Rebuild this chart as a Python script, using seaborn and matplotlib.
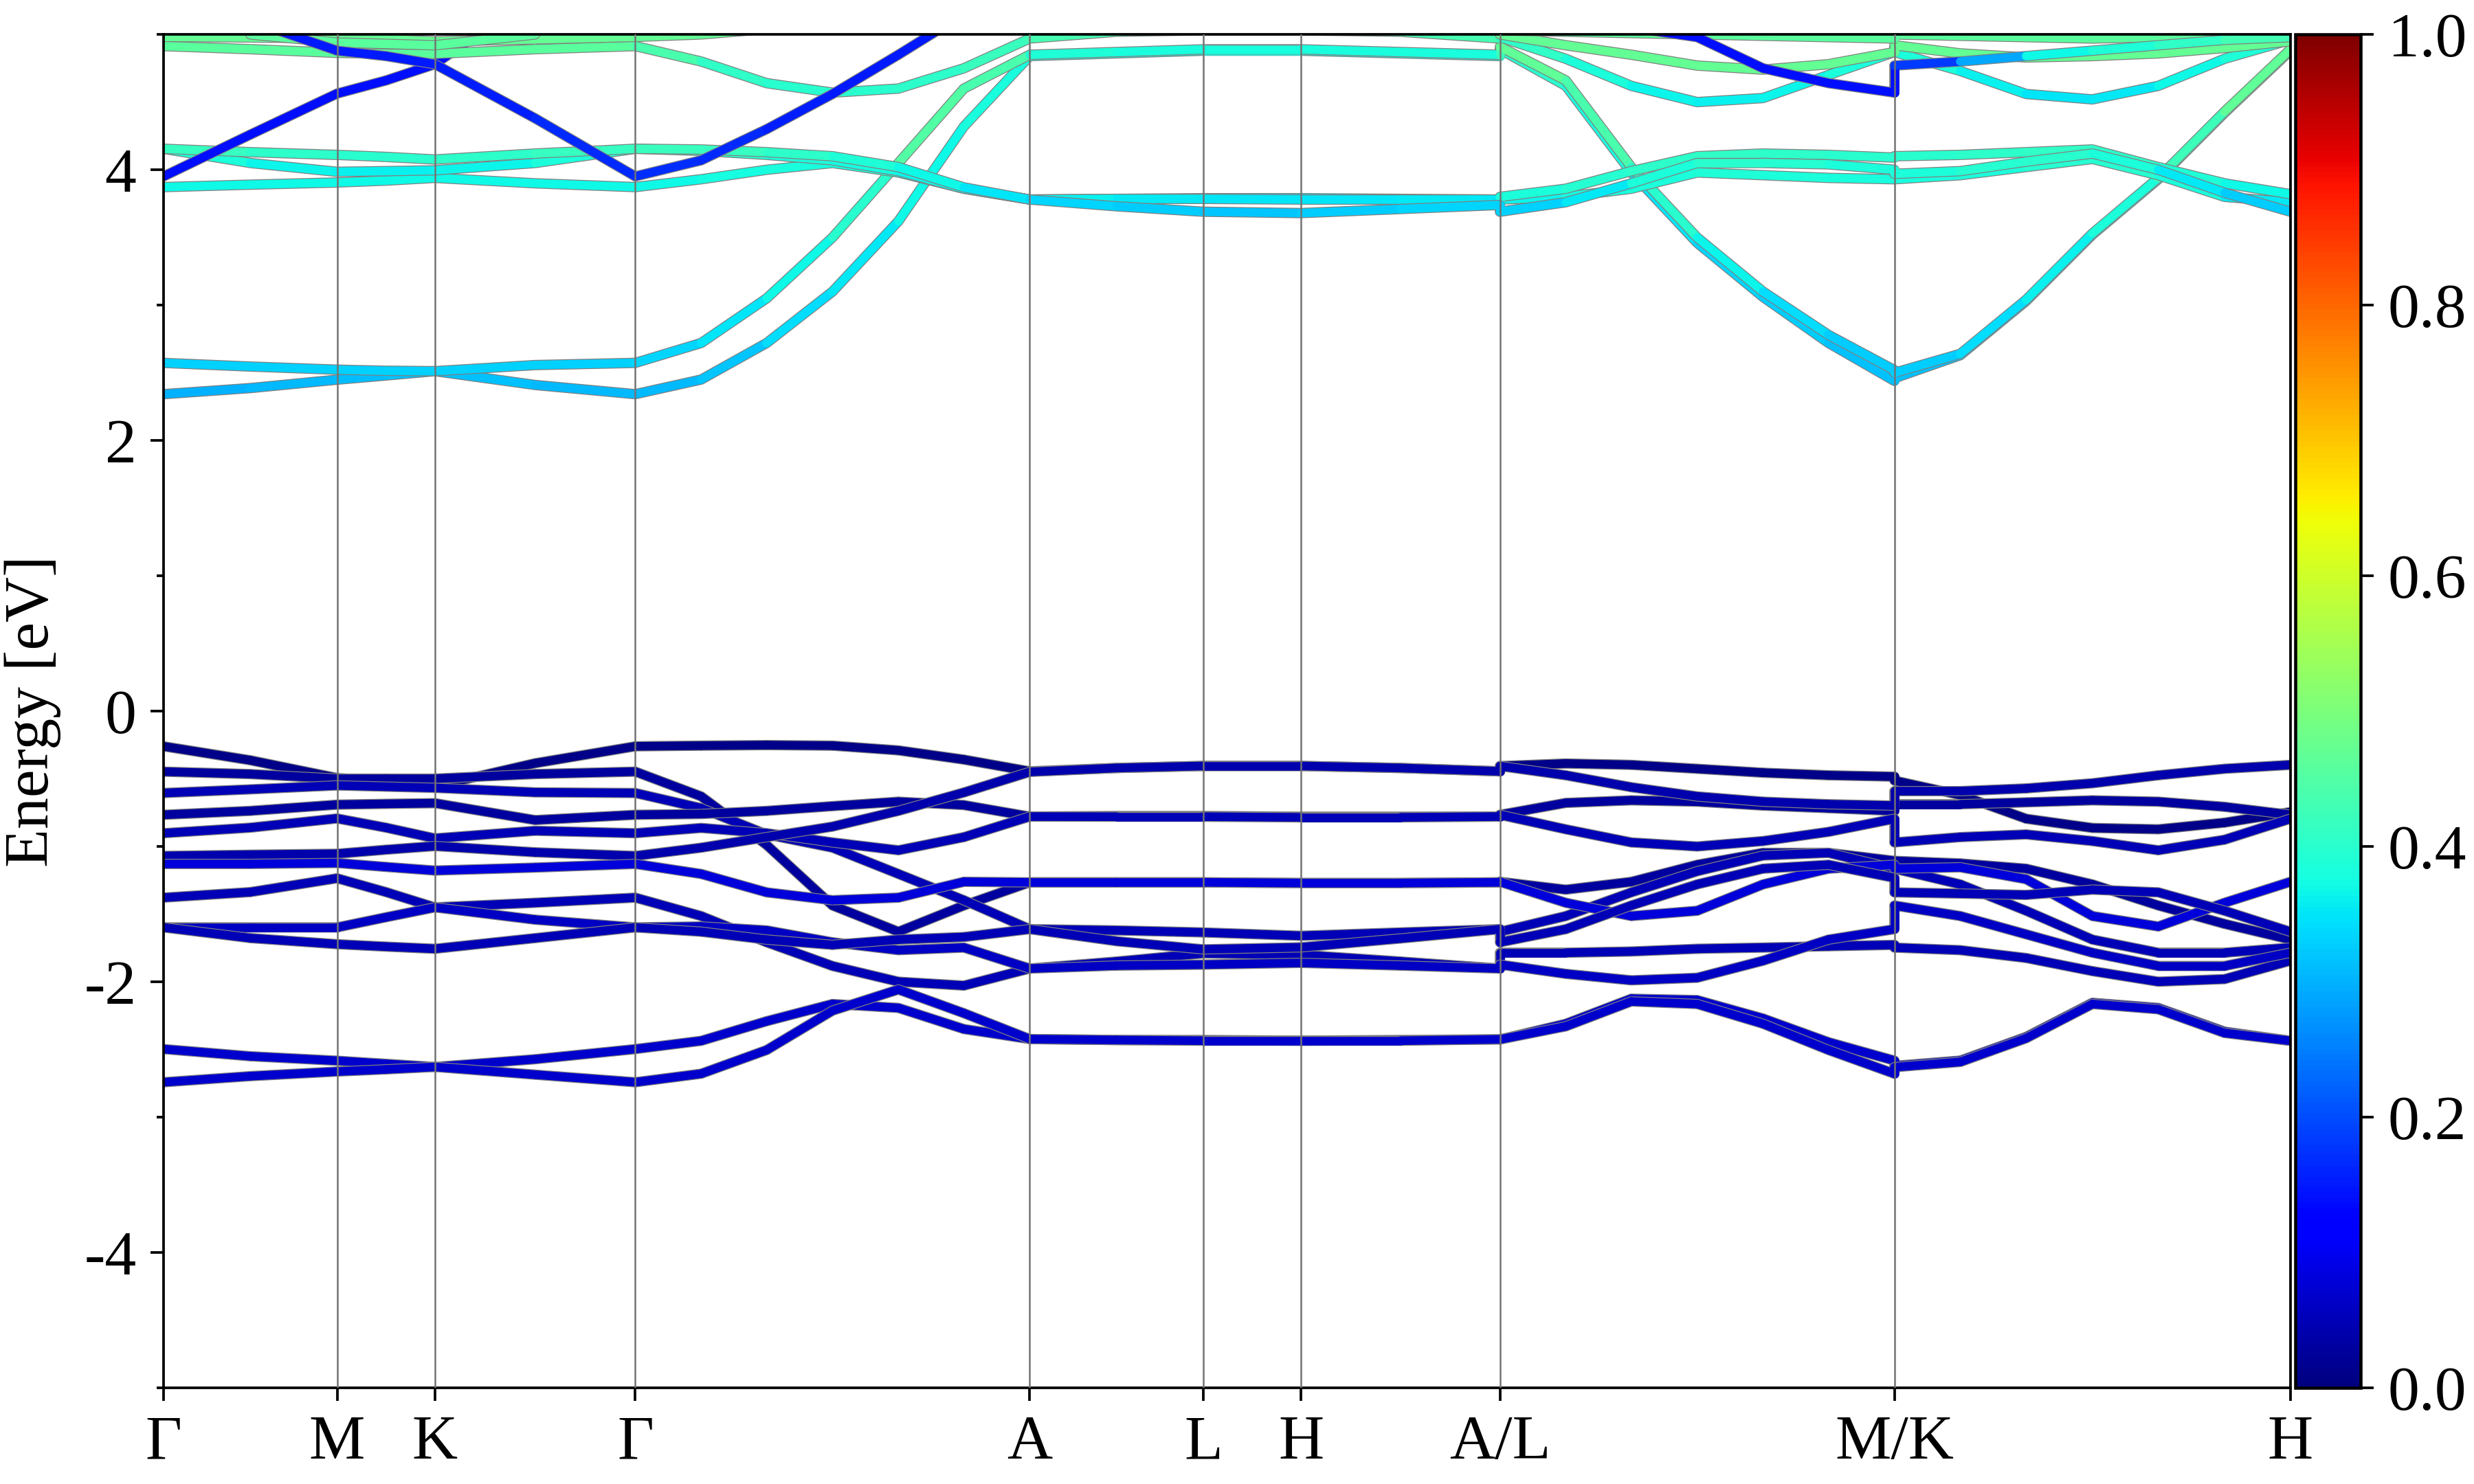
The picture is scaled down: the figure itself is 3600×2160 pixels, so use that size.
import numpy as np
import pandas as pd
import matplotlib
matplotlib.use('Agg')
import matplotlib.pyplot as plt
from matplotlib.collections import LineCollection
from matplotlib.ticker import FixedLocator, MultipleLocator
import seaborn as sns

nan = np.nan

# k-path distance of every sampled k-point (jumps at A|L and M|K are repeated)
kpath = [0.0, 0.22, 0.44, 0.564, 0.688, 0.942, 1.196,
         1.363, 1.529, 1.696, 1.863, 2.029, 2.196,
         2.416, 2.636, 2.884, 3.136, 3.388,
         3.388, 3.555, 3.721, 3.888, 4.055, 4.221, 4.388,
         4.388, 4.555, 4.722, 4.89, 5.057, 5.225, 5.392]
kticks = [0.0, 0.44, 0.688, 1.196, 2.196, 2.636, 2.884, 3.388, 4.388, 5.392]
klabels = ['Γ', 'M', 'K', 'Γ', 'A', 'L', 'H', 'A/L', 'M/K', 'H']

# valence bands (eV), pieces: Γ-M-K-Γ | Γ-A | A-L-H-A | L-M | K-H
v01 = [-0.26, -0.363, -0.494, -0.521, -0.555, -0.385, -0.26,
       -0.255, -0.251, -0.255, -0.290, -0.358, -0.445,
       -0.42, -0.405, -0.405, -0.42, -0.445,
       -0.406, -0.387, -0.397, -0.426, -0.455, -0.474, -0.484,
       -0.513, -0.620, -0.795, -0.863, -0.873, -0.824, -0.746]
v02 = [-0.447, -0.465, -0.499, -0.499, -0.499, -0.465, -0.447,
       -0.630, -0.989, -1.436, -1.630, -1.436, -1.265,
       -1.265, -1.265, -1.27, -1.27, -1.265,
       -1.261, -1.319, -1.261, -1.135, -1.047, -1.047, -1.106,
       -1.106, -1.125, -1.164, -1.280, -1.436, -1.572, -1.688]
v03 = [-0.605, -0.578, -0.549, -0.558, -0.567, -0.60, -0.605,
       -0.717, -0.911, -1.009, -1.203, -1.397, -1.611,
       -1.62, -1.635, -1.66, -1.635, -1.611,
       -1.630, -1.514, -1.339, -1.183, -1.067, -1.047, -1.164,
       -1.164, -1.280, -1.475, -1.688, -1.785, -1.785, -1.747]
v04 = [-0.766, -0.737, -0.691, -0.685, -0.68, -0.805, -0.766,
       -0.760, -0.737, -0.702, -0.669, -0.694, -0.779,
       -0.775, -0.775, -0.78, -0.78, -0.779,
       -0.766, -0.678, -0.659, -0.669, -0.698, -0.717, -0.737,
       -0.688, -0.688, -0.674, -0.659, -0.669, -0.707, -0.766]
v05 = [-0.902, -0.861, -0.793, -0.861, -0.94, -0.884, -0.902,
       -0.863, -0.902, -0.970, -1.028, -0.931, -0.779,
       -0.78, -0.78, -0.785, -0.785, -0.779,
       -0.766, -0.873, -0.970, -1.0, -0.960, -0.892, -0.795,
       -0.970, -0.931, -0.911, -0.960, -1.028, -0.950, -0.795]
v06 = [-1.07, -1.061, -1.054, -1.024, -0.997, -1.043, -1.07,
       -1.009, -0.931, -0.853, -0.737, -0.601, -0.449,
       -0.42, -0.405, -0.405, -0.42, -0.445,
       -0.406, -0.474, -0.562, -0.630, -0.669, -0.688, -0.698,
       -0.591, -0.591, -0.571, -0.533, -0.474, -0.426, -0.397]
v07 = [-1.129, -1.129, -1.122, -1.151, -1.178, -1.156, -1.129,
       -1.203, -1.339, -1.397, -1.378, -1.261, -1.265,
       -1.265, -1.265, -1.27, -1.27, -1.265,
       -1.261, -1.416, -1.514, -1.475, -1.280, -1.164, -1.135,
       -1.164, -1.154, -1.242, -1.514, -1.591, -1.416, -1.261]
v08 = [-1.378, -1.337, -1.235, -1.337, -1.45, -1.416, -1.378,
       -1.514, -1.708, -1.883, -1.999, -2.028, -1.902,
       -1.85, -1.79, -1.80, -1.85, -1.902,
       -1.785, -1.785, -1.776, -1.756, -1.747, -1.737, -1.727,
       -1.747, -1.766, -1.824, -1.921, -1.999, -1.980, -1.844]
v09 = [-1.598, -1.598, -1.598, -1.523, -1.45, -1.541, -1.598,
       -1.591, -1.620, -1.708, -1.766, -1.747, -1.902,
       -1.88, -1.873, -1.86, -1.88, -1.902,
       -1.873, -1.941, -1.989, -1.970, -1.844, -1.688, -1.611,
       -1.436, -1.514, -1.649, -1.785, -1.883, -1.883, -1.785]
v10 = [-1.598, -1.677, -1.722, -1.74, -1.756, -1.677, -1.598,
       -1.630, -1.688, -1.727, -1.688, -1.669, -1.611,
       -1.70, -1.76, -1.745, -1.68, -1.611,
       -1.708, -1.611, -1.436, -1.280, -1.164, -1.135, -1.232,
       -1.339, -1.348, -1.358, -1.319, -1.339, -1.475, -1.630]
v11 = [-2.497, -2.55, -2.583, -2.606, -2.629, -2.572, -2.497,
       -2.436, -2.291, -2.164, -2.193, -2.349, -2.423,
       -2.43, -2.43, -2.435, -2.43, -2.425,
       -2.426, -2.310, -2.125, -2.135, -2.271, -2.446, -2.582,
       -2.621, -2.582, -2.407, -2.155, -2.193, -2.368, -2.436]
v12 = [-2.742, -2.697, -2.663, -2.647, -2.629, -2.686, -2.742,
       -2.679, -2.504, -2.213, -2.057, -2.232, -2.423,
       -2.43, -2.435, -2.435, -2.435, -2.425,
       -2.426, -2.329, -2.145, -2.164, -2.310, -2.504, -2.679,
       -2.631, -2.592, -2.417, -2.164, -2.203, -2.378, -2.436]
val_weight = [0.01, 0.03, 0.05, 0.03, 0.05, 0.04, 0.08, 0.05, 0.06, 0.05, 0.07, 0.07]

# conduction bands (eV) and their projected weight
c01 = [2.342, 2.387, 2.449, 2.48, 2.512, 2.41, 2.342,
       2.45, 2.72, 3.10, 3.62, 4.32, 4.84,
       4.86, 4.88, 4.88, 4.86, 4.84,
       4.89, 4.62, 3.98, 3.46, 3.06, 2.72, 2.44,
       2.46, 2.63, 3.03, 3.52, 3.93, 4.42, 4.88]
w_c01 = [.30, .30, .31, .31, .32, .31, .30,
         .31, .33, .35, .36, .38, .38,
         .37, .37, .37, .37, .38,
         .40, .40, .36, .34, .33, .32, .31,
         .31, .32, .34, .36, .38, .42, .45]
c02 = [2.573, 2.546, 2.523, 2.515, 2.512, 2.557, 2.573,
       2.72, 3.05, 3.50, 4.05, 4.60, 4.85,
       4.87, 4.89, 4.89, 4.87, 4.85,
       4.91, 4.66, 4.02, 3.50, 3.10, 2.78, 2.52,
       2.50, 2.64, 3.04, 3.53, 3.94, 4.43, 4.89]
w_c02 = [.33, .33, .33, .33, .33, .33, .33,
         .34, .36, .38, .42, .48, .40,
         .38, .38, .38, .38, .38,
         .47, .46, .42, .38, .35, .33, .32,
         .32, .33, .35, .37, .40, .45, .48]
c03 = [3.872, 3.89, 3.906, 3.92, 3.94, 3.90, 3.872,
       3.93, 4.00, 4.05, 3.98, 3.86, 3.78,
       3.785, 3.79, 3.79, 3.785, 3.78,
       3.78, 3.80, 3.86, 3.98, 3.96, 3.94, 3.93,
       3.93, 3.96, 4.02, 4.08, 3.96, 3.80, 3.76]
w_c03 = [.37, .37, .37, .37, .37, .37, .37,
         .37, .38, .38, .37, .36, .35,
         .35, .35, .35, .35, .35,
         .36, .37, .38, .39, .39, .38, .38,
         .38, .38, .39, .40, .39, .37, .34]
c04 = [4.155, 4.05, 3.985, 3.99, 3.996, 4.05, 4.155,
       4.14, 4.11, 4.07, 3.99, 3.86, 3.78,
       3.785, 3.785, 3.78, 3.78, 3.78,
       3.80, 3.86, 3.99, 4.10, 4.12, 4.11, 4.09,
       4.10, 4.11, 4.13, 4.15, 4.02, 3.90, 3.82]
w_c04 = [.40, .37, .36, .36, .36, .37, .40,
         .40, .39, .38, .37, .36, .36,
         .36, .35, .35, .35, .36,
         .38, .39, .40, .41, .41, .40, .40,
         .40, .40, .41, .41, .40, .38, .36]
c05 = [4.155, 4.13, 4.11, 4.095, 4.076, 4.12, 4.155,
       4.15, 4.13, 4.10, 4.02, 3.87, 3.78,
       3.73, 3.69, 3.68, 3.71, 3.74,
       3.69, 3.76, 3.90, 4.05, 4.05, 4.04, 4.00,
       3.97, 3.99, 4.06, 4.12, 4.00, 3.83, 3.69]
w_c05 = [.42, .41, .40, .40, .40, .41, .42,
         .42, .41, .40, .38, .36, .34,
         .33, .32, .32, .33, .34,
         .32, .34, .37, .40, .40, .39, .38,
         .38, .39, .40, .40, .37, .34, .31]
# bands that leave the window above 5 eV carry nan there
c06 = [3.951, 4.26, 4.563, 4.66, 4.78, 5.30] + [nan] * 26
w_c06 = 0.14
c07 = [4.914, 4.891, 4.864, 4.857, 4.857, 4.891, 4.914,
       4.80, 4.64, 4.57, 4.60, 4.75, 4.97,
       5.02, 5.03, 5.03, 5.02, 4.97,
       4.98, 4.82, 4.62, 4.50, 4.53, 4.70, 4.87,
       4.87, 4.73, 4.56, 4.52, 4.62, 4.82, 4.96]
w_c07 = [.46, .46, .46, .46, .46, .46, .46,
         .42, .40, .40, .40, .41, .43,
         .44, .44, .44, .44, .43,
         .42, .40, .37, .36, .36, .37, .40,
         .40, .37, .35, .35, .36, .38, .40]
c08 = ([4.982, 4.978, 4.971, 4.964, 4.948, 4.964, 4.982, 5.00, 5.04] + [nan] * 9 +
       [5.00, 4.92, 4.85, 4.77, 4.74, 4.78, 4.87,
        4.92, 4.86, 4.83, 4.84, 4.86, 4.90, 4.95])
w_c08 = 0.47
c09 = ([nan, 5.00, 4.94, 4.93, 4.92, 5.00] + [nan] * 12 +
       [5.03, 5.02, 5.01, 5.00, 4.99, 4.98, 4.97,
        5.00, 4.99, 4.98, 4.97, 4.98, 4.99, 5.00])
w_c09 = 0.46
c10 = ([nan, 5.10, 4.88, 4.84, 4.78, 4.38, 3.951,
        4.07, 4.30, 4.56, 4.85, 5.15] + [nan] * 6 +
       [5.30, 5.20, 5.05, 4.98, 4.75, 4.64, 4.57,
        4.77, 4.80, 4.84, 4.88, 4.92, 4.96, 4.98])
w_c10 = [.15, .15, .15, .15, .15, .16, .17,
         .17, .16, .15, .15, .15, .15,
         .15, .15, .15, .15, .15,
         .14, .14, .14, .14, .14, .14, .14,
         .14, .22, .36, .38, .40, .42, .44]

val_bands = [v01, v02, v03, v04, v05, v06, v07, v08, v09, v10, v11, v12]
cond_bands = [c01, c02, c03, c04, c05, c06, c07, c08, c09, c10]
cond_weight = [w_c01, w_c02, w_c03, w_c04, w_c05, w_c06, w_c07, w_c08, w_c09, w_c10]

bands = val_bands + cond_bands
weights = val_weight + cond_weight
for b in bands:
    assert len(b) == len(kpath), len(b)

# style
sns.set_style('ticks')
plt.rcParams['font.family'] = ['Liberation Serif', 'DejaVu Serif']
plt.rcParams['axes.unicode_minus'] = False
plt.rcParams['font.size'] = 22
for key in ['axes.edgecolor', 'axes.labelcolor', 'text.color', 'xtick.color', 'ytick.color']:
    plt.rcParams[key] = 'black'

fig = plt.figure(figsize=(12, 7.2), dpi=300)
ax = fig.add_axes([0.0661, 0.0648, 0.8597, 0.912])
cax = fig.add_axes([0.9278, 0.0648, 0.0264, 0.912])

cmap = plt.get_cmap('jet')
k = np.array(kpath)

for i, (e, w) in enumerate(zip(bands, weights)):
    e = np.array(e, dtype=float)
    w = np.full(len(e), w) if np.isscalar(w) else np.array(w, dtype=float)
    # gray outline, drawn with seaborn piece by piece (pieces split at nan)
    piece = np.cumsum(np.isnan(e))
    df = pd.DataFrame({'k': k, 'E': e, 'piece': piece}).dropna()
    sns.lineplot(data=df, x='k', y='E', units='piece', estimator=None, sort=False,
                 color='0.5', lw=3.6, legend=False, ax=ax, zorder=2 + i * 0.01)
    # coloured band on top
    segs, cols = [], []
    for j in range(len(e) - 1):
        if np.isnan(e[j]) or np.isnan(e[j + 1]):
            continue
        segs.append([(k[j], e[j]), (k[j + 1], e[j + 1])])
        cols.append(cmap((w[j] + w[j + 1]) / 2))
    lc = LineCollection(segs, colors=cols, linewidths=3.0, capstyle='round',
                        joinstyle='round', zorder=2 + i * 0.01 + 0.005)
    ax.add_collection(lc)

for x in kticks[1:-1]:
    ax.axvline(x, color='0.45', lw=0.6, zorder=10)

ax.set_xlim(kticks[0], kticks[-1])
ax.set_ylim(-5, 5)
ax.set_xticks(kticks)
ax.set_xticklabels(klabels)
ax.set_xlabel('')
ax.yaxis.set_major_locator(FixedLocator([-4, -2, 0, 2, 4]))
ax.yaxis.set_minor_locator(MultipleLocator(1))
ax.set_ylabel('Energy [eV]', fontsize=22, labelpad=8)
ax.tick_params(axis='both', which='major', length=4.5, width=0.9, labelsize=22, pad=5)
ax.tick_params(axis='y', which='minor', length=2.5, width=0.9)
for sp in ax.spines.values():
    sp.set_linewidth(0.9)
    sp.set_color('black')

sm = plt.cm.ScalarMappable(norm=plt.Normalize(0, 1), cmap=cmap)
cb = fig.colorbar(sm, cax=cax)
cb.set_ticks([0.0, 0.2, 0.4, 0.6, 0.8, 1.0])
cb.ax.tick_params(length=4.5, width=0.9, labelsize=22, pad=5)
cb.outline.set_linewidth(1.1)

fig.savefig('out.png', dpi=300)
